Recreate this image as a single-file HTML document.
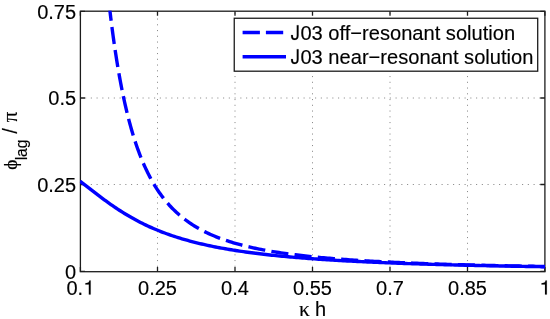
<!DOCTYPE html>
<html><head><meta charset="utf-8"><style>
html,body{margin:0;padding:0;background:#fff;width:550px;height:319px;overflow:hidden}
svg{display:block}
text{font-family:"Liberation Sans",sans-serif;font-size:20px;fill:#000;stroke:#000;stroke-width:0.15px}
.g{font-family:"Liberation Serif",serif}
</style></head><body>
<svg width="550" height="319" viewBox="0 0 550 319" style="will-change:transform">
<defs><clipPath id="ax"><rect x="79.9" y="10.4" width="465.7" height="261"/></clipPath></defs>
<g stroke="#8c8c8c" stroke-width="1" stroke-dasharray="1.1 4.65" fill="none">
<line x1="157.50" y1="11.20" x2="157.50" y2="271.70" stroke-dashoffset="4.2"/>
<line x1="235.00" y1="11.20" x2="235.00" y2="271.70" stroke-dashoffset="4.2"/>
<line x1="312.50" y1="11.20" x2="312.50" y2="271.70" stroke-dashoffset="4.2"/>
<line x1="390.00" y1="11.20" x2="390.00" y2="271.70" stroke-dashoffset="4.2"/>
<line x1="467.50" y1="11.20" x2="467.50" y2="271.70" stroke-dashoffset="4.2"/>
<line x1="80.40" y1="184.50" x2="544.90" y2="184.50" stroke-dashoffset="1.1"/>
<line x1="80.40" y1="98.00" x2="544.90" y2="98.00" stroke-dashoffset="1.1"/>
</g>
<g fill="none" stroke="#1c1c1c" stroke-width="1.3">
<rect x="80.4" y="11.2" width="464.5" height="260.5"/>
<path d="M80.40 271.70V267.10M80.40 11.20V15.80M157.50 271.70V267.10M157.50 11.20V15.80M235.00 271.70V267.10M235.00 11.20V15.80M312.50 271.70V267.10M312.50 11.20V15.80M390.00 271.70V267.10M390.00 11.20V15.80M467.50 271.70V267.10M467.50 11.20V15.80M544.90 271.70V267.10M544.90 11.20V15.80M80.40 271.30H85.00M544.90 271.30H540.30M80.40 184.50H85.00M544.90 184.50H540.30M80.40 98.00H85.00M544.90 98.00H540.30M80.40 11.30H85.00M544.90 11.30H540.30"/>
</g>
<g clip-path="url(#ax)" fill="none" stroke="#0000ff" stroke-width="3.4">
<path d="M79.95 181.16 L81.55 182.36 L83.17 183.60 L84.80 184.85 L86.42 186.11 L88.05 187.37 L89.67 188.63 L91.30 189.89 L92.93 191.14 L94.55 192.40 L96.18 193.65 L97.80 194.89 L99.43 196.13 L101.05 197.35 L102.68 198.57 L104.31 199.77 L105.93 200.96 L107.56 202.14 L109.24 203.34 L110.92 204.53 L112.61 205.70 L114.29 206.86 L115.98 208.00 L117.66 209.11 L119.34 210.22 L121.03 211.30 L122.77 212.40 L124.51 213.48 L126.25 214.54 L128.00 215.58 L129.74 216.59 L131.48 217.59 L133.28 218.60 L135.08 219.59 L136.88 220.56 L138.68 221.50 L140.48 222.43 L142.28 223.33 L144.08 224.22 L145.94 225.11 L147.79 225.98 L149.65 226.84 L151.51 227.67 L153.37 228.48 L155.23 229.27 L157.08 230.04 L158.94 230.80 L160.86 231.56 L162.77 232.30 L164.69 233.02 L166.61 233.73 L168.52 234.42 L170.44 235.09 L172.35 235.74 L174.27 236.38 L176.19 237.00 L178.10 237.61 L180.02 238.20 L181.94 238.78 L183.91 239.36 L185.88 239.93 L187.86 240.48 L189.83 241.02 L191.81 241.55 L193.78 242.06 L195.75 242.56 L197.73 243.05 L199.70 243.53 L201.68 243.99 L203.65 244.45 L205.62 244.89 L207.60 245.32 L209.57 245.75 L211.55 246.16 L213.52 246.56 L215.50 246.96 L217.47 247.34 L219.44 247.72 L221.42 248.08 L223.39 248.44 L225.37 248.79 L227.34 249.14 L229.31 249.47 L231.29 249.80 L233.32 250.13 L235.35 250.45 L237.38 250.77 L239.42 251.07 L241.45 251.38 L243.48 251.67 L245.51 251.96 L247.55 252.24 L249.58 252.52 L251.61 252.79 L253.64 253.05 L255.67 253.31 L257.71 253.56 L259.74 253.81 L261.77 254.05 L263.80 254.29 L265.84 254.52 L267.87 254.75 L269.90 254.97 L271.93 255.19 L273.96 255.41 L276.00 255.62 L278.03 255.82 L280.06 256.02 L282.09 256.22 L284.13 256.41 L286.16 256.60 L288.19 256.79 L290.22 256.97 L292.25 257.15 L294.29 257.33 L296.32 257.50 L298.35 257.67 L300.38 257.84 L302.41 258.00 L304.45 258.16 L306.48 258.32 L308.51 258.47 L310.54 258.62 L312.58 258.77 L314.61 258.92 L316.64 259.06 L318.67 259.20 L320.70 259.34 L322.74 259.48 L324.77 259.61 L326.80 259.74 L328.83 259.87 L330.87 260.00 L332.90 260.12 L334.93 260.25 L336.96 260.37 L338.99 260.49 L341.03 260.60 L343.06 260.72 L345.09 260.83 L347.12 260.94 L349.16 261.05 L351.19 261.16 L353.22 261.26 L355.25 261.37 L357.28 261.47 L359.32 261.57 L361.35 261.67 L363.38 261.77 L365.41 261.86 L367.44 261.96 L369.48 262.05 L371.51 262.14 L373.54 262.23 L375.57 262.32 L377.61 262.41 L379.64 262.50 L381.67 262.58 L383.70 262.67 L385.73 262.75 L387.77 262.83 L389.80 262.91 L391.83 262.99 L393.86 263.07 L395.90 263.14 L397.93 263.22 L399.96 263.29 L401.99 263.37 L404.02 263.44 L406.06 263.51 L408.09 263.58 L410.12 263.65 L412.15 263.72 L414.19 263.78 L416.22 263.85 L418.25 263.92 L420.28 263.98 L422.31 264.05 L424.35 264.11 L426.38 264.17 L428.41 264.23 L430.44 264.29 L432.47 264.35 L434.51 264.41 L436.54 264.47 L438.57 264.53 L440.60 264.58 L442.64 264.64 L444.67 264.69 L446.70 264.75 L448.73 264.80 L450.76 264.86 L452.80 264.91 L454.83 264.96 L456.86 265.01 L458.89 265.06 L460.93 265.11 L462.96 265.16 L464.99 265.21 L467.02 265.26 L469.05 265.30 L471.09 265.35 L473.12 265.40 L475.15 265.44 L477.18 265.49 L479.22 265.53 L481.25 265.58 L483.28 265.62 L485.31 265.66 L487.34 265.71 L489.38 265.75 L491.41 265.79 L493.44 265.83 L495.47 265.87 L497.50 265.91 L499.54 265.95 L501.57 265.99 L503.60 266.03 L505.63 266.07 L507.67 266.10 L509.70 266.14 L511.73 266.18 L513.76 266.22 L515.79 266.25 L517.83 266.29 L519.86 266.32 L521.89 266.36 L523.92 266.39 L525.96 266.43 L527.99 266.46 L530.02 266.49 L532.05 266.53 L534.08 266.56 L536.12 266.59 L538.15 266.62 L540.18 266.66 L542.21 266.69 L544.25 266.72 L545.00 266.73"/>
<path d="M109.88 10.40 L110.17 12.86 L110.46 15.27 L110.75 17.66 L111.04 20.01 L111.33 22.33 L111.62 24.62 L111.91 26.87 L112.20 29.10 L112.49 31.30 L112.78 33.47 L113.07 35.61 L113.36 37.73 L113.65 39.81 L113.94 41.87 L114.23 43.91 L114.52 45.91 L114.81 47.89 L115.16 50.24 L115.51 52.55 L115.86 54.82 L116.21 57.06 L116.56 59.26 L116.91 61.44 L117.25 63.58 L117.60 65.68 L117.95 67.76 L118.30 69.81 L118.65 71.83 L119.00 73.81 L119.40 76.10 L119.81 78.34 L120.21 80.55 L120.62 82.72 L121.03 84.85 L121.43 86.95 L121.84 89.01 L122.25 91.04 L122.65 93.04 L123.06 95.00 L123.52 97.21 L123.99 99.38 L124.45 101.50 L124.92 103.59 L125.38 105.64 L125.85 107.66 L126.31 109.64 L126.83 111.82 L127.36 113.96 L127.88 116.06 L128.40 118.12 L128.92 120.13 L129.45 122.11 L129.97 124.05 L130.55 126.17 L131.13 128.23 L131.71 130.26 L132.29 132.24 L132.87 134.18 L133.51 136.27 L134.15 138.31 L134.79 140.31 L135.43 142.26 L136.07 144.17 L136.76 146.21 L137.46 148.20 L138.16 150.14 L138.85 152.03 L139.61 154.04 L140.36 155.99 L141.12 157.90 L141.87 159.75 L142.68 161.71 L143.50 163.61 L144.31 165.46 L145.18 167.39 L146.05 169.27 L146.92 171.10 L147.85 172.99 L148.78 174.84 L149.71 176.63 L150.70 178.48 L151.68 180.27 L152.67 182.02 L153.72 183.81 L154.76 185.55 L155.87 187.32 L156.97 189.05 L158.07 190.72 L159.23 192.42 L160.39 194.07 L161.61 195.74 L162.83 197.37 L164.11 199.01 L165.39 200.59 L166.72 202.20 L168.06 203.74 L169.39 205.24 L170.79 206.75 L172.18 208.20 L173.63 209.67 L175.08 211.08 L176.59 212.49 L178.10 213.86 L179.61 215.18 L181.18 216.49 L182.75 217.77 L184.37 219.04 L186.00 220.26 L187.63 221.44 L189.31 222.62 L190.99 223.76 L192.68 224.86 L194.42 225.95 L196.16 227.00 L197.90 228.02 L199.70 229.03 L201.50 230.01 L203.30 230.95 L205.10 231.86 L206.90 232.73 L208.76 233.61 L210.62 234.45 L212.48 235.26 L214.33 236.05 L216.19 236.81 L218.11 237.56 L220.02 238.29 L221.94 239.00 L223.86 239.68 L225.77 240.34 L227.69 240.98 L229.60 241.60 L231.52 242.19 L233.44 242.77 L235.41 243.35 L237.38 243.91 L239.36 244.45 L241.33 244.98 L243.31 245.49 L245.28 245.98 L247.26 246.46 L249.23 246.92 L251.20 247.37 L253.18 247.81 L255.15 248.24 L257.13 248.65 L259.10 249.05 L261.07 249.44 L263.05 249.82 L265.02 250.19 L267.00 250.55 L268.97 250.90 L270.94 251.23 L272.92 251.57 L274.89 251.89 L276.93 252.21 L278.96 252.52 L280.99 252.83 L283.02 253.13 L285.05 253.42 L287.09 253.70 L289.12 253.98 L291.15 254.25 L293.18 254.51 L295.22 254.76 L297.25 255.01 L299.28 255.26 L301.31 255.49 L303.34 255.73 L305.38 255.95 L307.41 256.17 L309.44 256.39 L311.47 256.60 L313.50 256.81 L315.54 257.01 L317.57 257.21 L319.60 257.40 L321.63 257.59 L323.67 257.77 L325.70 257.95 L327.73 258.13 L329.76 258.30 L331.79 258.47 L333.83 258.64 L335.86 258.80 L337.89 258.96 L339.92 259.12 L341.96 259.27 L343.99 259.42 L346.02 259.56 L348.05 259.71 L350.08 259.85 L352.12 259.99 L354.15 260.12 L356.18 260.25 L358.21 260.38 L360.25 260.51 L362.28 260.64 L364.31 260.76 L366.34 260.88 L368.37 261.00 L370.41 261.11 L372.44 261.23 L374.47 261.34 L376.50 261.45 L378.53 261.56 L380.57 261.66 L382.60 261.77 L384.63 261.87 L386.66 261.97 L388.70 262.07 L390.73 262.17 L392.76 262.26 L394.79 262.36 L396.82 262.45 L398.86 262.54 L400.89 262.63 L402.92 262.72 L404.95 262.80 L406.99 262.89 L409.02 262.97 L411.05 263.05 L413.08 263.13 L415.11 263.21 L417.15 263.29 L419.18 263.37 L421.21 263.44 L423.24 263.52 L425.28 263.59 L427.31 263.67 L429.34 263.74 L431.37 263.81 L433.40 263.88 L435.44 263.94 L437.47 264.01 L439.50 264.08 L441.53 264.14 L443.56 264.21 L445.60 264.27 L447.63 264.33 L449.66 264.39 L451.69 264.45 L453.73 264.51 L455.76 264.57 L457.79 264.63 L459.82 264.69 L461.85 264.74 L463.89 264.80 L465.92 264.85 L467.95 264.91 L469.98 264.96 L472.02 265.01 L474.05 265.07 L476.08 265.12 L478.11 265.17 L480.14 265.22 L482.18 265.27 L484.21 265.31 L486.24 265.36 L488.27 265.41 L490.31 265.46 L492.34 265.50 L494.37 265.55 L496.40 265.59 L498.43 265.64 L500.47 265.68 L502.50 265.72 L504.53 265.77 L506.56 265.81 L508.59 265.85 L510.63 265.89 L512.66 265.93 L514.69 265.97 L516.72 266.01 L518.76 266.05 L520.79 266.09 L522.82 266.13 L524.85 266.16 L526.88 266.20 L528.92 266.24 L530.95 266.27 L532.98 266.31 L535.01 266.35 L537.05 266.38 L539.08 266.42 L541.11 266.45 L543.14 266.48 L545.00 266.51" stroke-dasharray="17.15 6.24" stroke-dashoffset="6.72"/>
</g>
<text x="66.50" y="294.6">0.</text>
<path transform="translate(83.18 294.60) scale(0.02 -0.02)" stroke="#000" stroke-width="7.5" d="M373 0L284 0L284 505L109 505L109 568C200 573 260 590 290 640C300 660 308 685 312 709L373 709Z"/>
<text x="157.50" y="294.6" text-anchor="middle">0.25</text>
<text x="235.00" y="294.6" text-anchor="middle">0.4</text>
<text x="312.50" y="294.6" text-anchor="middle">0.55</text>
<text x="390.00" y="294.6" text-anchor="middle">0.7</text>
<text x="467.50" y="294.6" text-anchor="middle">0.85</text>
<path transform="translate(539.34 294.60) scale(0.02 -0.02)" stroke="#000" stroke-width="7.5" d="M373 0L284 0L284 505L109 505L109 568C200 573 260 590 290 640C300 660 308 685 312 709L373 709Z"/>
<text x="76.1" y="278.50" text-anchor="end">0</text>
<text x="76.1" y="191.70" text-anchor="end">0.25</text>
<text x="76.1" y="105.20" text-anchor="end">0.5</text>
<text x="76.1" y="18.50" text-anchor="end">0.75</text>
<text x="299.1" y="315.6" class="g" style="font-size:21.5px">κ</text>
<text x="314.9" y="315.6">h</text>
<g transform="translate(16.9 0) rotate(-90)">
<text x="-169.8" y="0" class="g" style="font-size:19.5px">ϕ</text>
<text x="-160.35" y="10.1" style="font-size:15.6px">lag</text>
<text x="-133.7" y="0">/</text>
<text x="-122.2" y="0" class="g" style="font-size:21px">π</text>
</g>
<rect x="234.25" y="18.25" width="303.45" height="52.95" fill="#fff" stroke="#1c1c1c" stroke-width="1.3"/>
<path d="M242.6 32.55H286.0" stroke="#0000ff" stroke-width="3.5" stroke-dasharray="17.3 6.0"/>
<path d="M242.6 56.7H286.0" stroke="#0000ff" stroke-width="3.5"/>
<path transform="translate(290.4 39.6) scale(0.0201 -0.0201)" stroke="#000" stroke-width="7.5" d="M318 718L406 718L406 210C406 60 330 -19 205 -19C70 -19 35 70 35 180L35 225L123 225L123 190C123 110 150 61 210 61C290 61 318 100 318 200Z"/>
<text x="300.45" y="39.6" style="font-size:20.1px">03 off−resonant solution</text>
<path transform="translate(290.4 63.6) scale(0.0201 -0.0201)" stroke="#000" stroke-width="7.5" d="M318 718L406 718L406 210C406 60 330 -19 205 -19C70 -19 35 70 35 180L35 225L123 225L123 190C123 110 150 61 210 61C290 61 318 100 318 200Z"/>
<text x="300.45" y="63.6" style="font-size:20.1px">03 near−resonant solution</text>
</svg>
</body></html>
